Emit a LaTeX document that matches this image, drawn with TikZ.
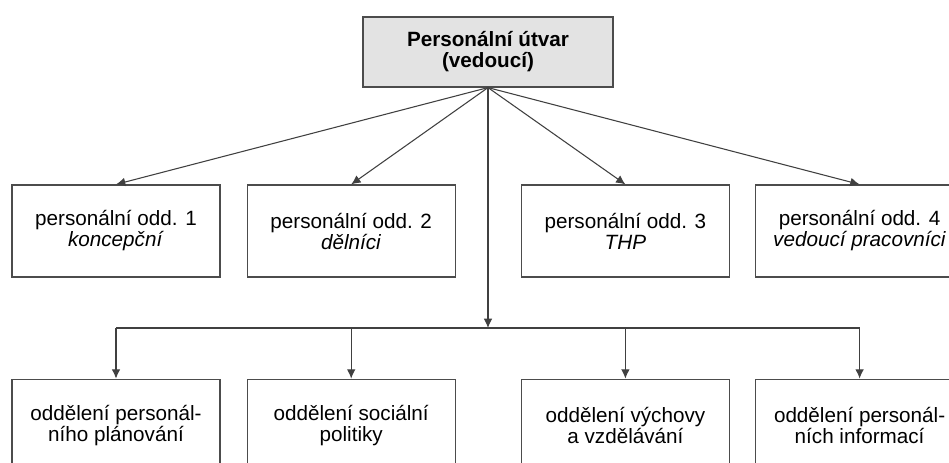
\documentclass[tikz,border=0pt]{standalone}
\usepackage{fontspec}
\setmainfont{Liberation Sans}
\usepackage{xcolor}
\usetikzlibrary{shapes,arrows.meta,positioning,calc}

\begin{document}
\begin{tikzpicture}[x=0.75pt, y=-0.75pt, >={Latex[length=7pt,width=6.5pt]}]
    \tikzstyle{head} = [draw=black!70, line width=0.9pt, rectangle, fill=black!11, minimum width=187.5pt, minimum height=52.5pt, align=center, font=\fontsize{15.5}{15.75}\selectfont\bfseries]
    \tikzstyle{block} = [draw=black!70, line width=0.9pt, rectangle, fill=white, minimum width=156pt, minimum height=69pt, align=center, font=\fontsize{15.5}{15.75}\selectfont]
    \tikzstyle{link} = [->, line width=0.8pt, draw=black!75]

    \useasboundingbox (0,0) rectangle (949,463);

    \node [head] (utvar) at (488,52) {Personální útvar\\(vedoucí)};

    % personalni oddeleni
    \node [block] (odd1) at (116,231) {personální odd. 1\\\textit{koncepční}};
    \node [block, right=19.5pt of odd1] (odd2) {personální odd. 2\\\textit{dělníci}};
    \node [block, right=48.75pt of odd2] (odd3) {personální odd. 3\\\textit{THP}};
    \node [block, right=18.75pt of odd3] (odd4) {personální odd. 4\\\textit{vedoucí pracovníci}};

    % oddeleni
    \node [block, below=75.75pt of odd1] (plan) {oddělení personál-\\ního plánování};
    \node [block, below=75.75pt of odd2] (soc) {oddělení sociální\\politiky};
    \node [block, below=75.75pt of odd3] (vzd) {oddělení výchovy\\a vzdělávání};
    \node [block, below=75.75pt of odd4] (info) {oddělení personál-\\ních informací};

    \foreach \n in {odd1,odd2,odd3,odd4}
        \draw [link] (utvar.south) -- (\n.north);

    \coordinate (bus) at (488,328);
    \draw [link] (utvar.south) -- (bus);
    \draw [line width=0.8pt, draw=black!75] (plan.north |- bus) -- (info.north |- bus);
    \foreach \n in {plan,soc,vzd,info}
        \draw [link] (\n.north |- bus) -- (\n.north);
\end{tikzpicture}
\end{document}
